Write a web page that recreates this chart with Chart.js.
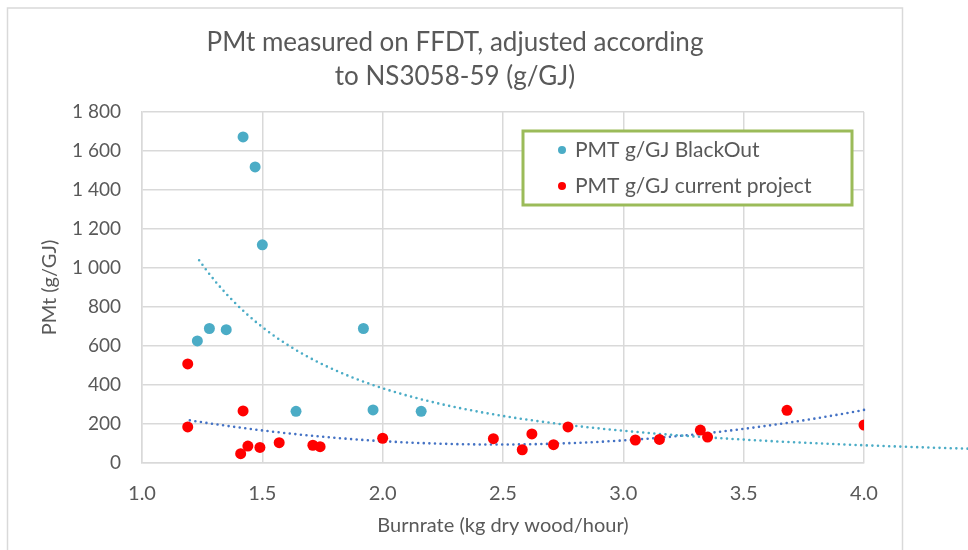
<!DOCTYPE html>
<html>
<head>
<meta charset="utf-8">
<script src="https://cdn.jsdelivr.net/npm/chart.js@4.4.1/dist/chart.umd.min.js"></script>
<style>
  html, body { margin: 0; padding: 0; background: #fff; }
  #wrap { width: 968px; height: 550px; position: relative; }
</style>
</head>
<body>
<div id="wrap"><canvas id="pmChart" width="968" height="550"></canvas></div>
<script>
// burnrate (kg dry wood/hour) and PMt (g/GJ)
var blackoutX = [1.42, 1.47, 1.50, 1.23, 1.28, 1.35, 1.92, 1.64, 1.96, 2.16];
var blackoutY = [1673, 1519, 1119, 626, 690, 684, 690, 265, 272, 265];

var currentX = [1.19, 1.19, 1.42, 1.41, 1.44, 1.49, 1.57, 1.71, 1.74, 2.00, 2.46,
                2.58, 2.62, 2.71, 2.77, 3.05, 3.15, 3.32, 3.35, 3.68, 4.00];
var currentY = [508, 185, 267, 48, 87, 80, 104, 91, 84, 127, 125,
                68, 149, 94, 185, 118, 121, 169, 133, 270, 195];

var xTicks = [1.0, 1.5, 2.0, 2.5, 3.0, 3.5, 4.0];
var yTicks = [0, 200, 400, 600, 800, 1000, 1200, 1400, 1600, 1800];

var seriesNames = ['PMT g/GJ BlackOut', 'PMT g/GJ current project'];
var colBlue = '#4bacc6', colRed = '#ff0000', colTrend2 = '#4472c4';
var greyTxt = '#595959', gridCol = '#d9d9d9';

function pts(xs, ys) {
    return xs.map(function (x, i) { return { x: x, y: ys[i] }; });
}

// power trendline y = a*x^b (least squares on logs), like the spreadsheet does
function powerFit(xs, ys) {
    var n = xs.length, sx = 0, sy = 0, sxx = 0, sxy = 0;
    for (var i = 0; i < n; i++) {
        var lx = Math.log(xs[i]), ly = Math.log(ys[i]);
        sx += lx; sy += ly; sxx += lx * lx; sxy += lx * ly;
    }
    var b = (n * sxy - sx * sy) / (n * sxx - sx * sx);
    var a = Math.exp((sy - b * sx) / n);
    return function (x) { return a * Math.pow(x, b); };
}

// 2nd order polynomial trendline
function polyFit2(xs, ys) {
    var n = xs.length, s = [0, 0, 0, 0, 0], t = [0, 0, 0];
    for (var i = 0; i < n; i++) {
        var p = 1;
        for (var k = 0; k < 5; k++) { s[k] += p; if (k < 3) t[k] += p * ys[i]; p *= xs[i]; }
    }
    var m = [[s[0], s[1], s[2], t[0]], [s[1], s[2], s[3], t[1]], [s[2], s[3], s[4], t[2]]];
    for (var c = 0; c < 3; c++) {
        for (var r = c + 1; r < 3; r++) {
            var f = m[r][c] / m[c][c];
            for (var j = c; j < 4; j++) m[r][j] -= f * m[c][j];
        }
    }
    var co = [0, 0, 0];
    for (var r2 = 2; r2 >= 0; r2--) {
        var v = m[r2][3];
        for (var j2 = r2 + 1; j2 < 3; j2++) v -= m[r2][j2] * co[j2];
        co[r2] = v / m[r2][r2];
    }
    return function (x) { return co[0] + co[1] * x + co[2] * x * x; };
}

// sampled right-to-left: unsorted data keeps chart.js from dropping the part past the axis max
function trendPoints(fn, from, to) {
    var out = [], steps = 80;
    for (var i = steps; i >= 0; i--) {
        var x = from + (to - from) * i / steps;
        out.push({ x: x, y: fn(x) });
    }
    return out;
}

var fitBlue = powerFit(blackoutX, blackoutY);
var fitRed = polyFit2(currentX, currentY);

function fmtThousands(v) {
    return String(v).replace(/\B(?=(\d{3})+(?!\d))/g, ' ');
}

// outer chart frame + legend box inside the plot
var framePlugin = {
    id: 'frame',
    beforeDraw: function (chart) {
        var ctx = chart.ctx;
        ctx.save();
        ctx.fillStyle = '#fff';
        ctx.fillRect(0, 0, chart.width, chart.height);
        ctx.strokeStyle = gridCol;
        ctx.lineWidth = 1.5;
        ctx.strokeRect(7.5, 8, 895, 600);
        ctx.restore();
    },
    afterDraw: function (chart) {
        var ctx = chart.ctx;
        ctx.save();
        ctx.fillStyle = '#fff';
        ctx.fillRect(523, 131, 329, 74);
        ctx.strokeStyle = '#9bbb59';
        ctx.lineWidth = 3;
        ctx.strokeRect(523, 131, 329, 74);
        var cols = [colBlue, colRed];
        ctx.font = '21px Lato';
        ctx.textBaseline = 'middle';
        for (var i = 0; i < 2; i++) {
            var y = 150 + i * 36;
            ctx.fillStyle = cols[i];
            ctx.beginPath();
            ctx.arc(562, y, 4, 0, Math.PI * 2);
            ctx.fill();
            ctx.fillStyle = greyTxt;
            ctx.fillText(seriesNames[i], 575, y);
        }
        ctx.restore();
    }
};

var ctx = document.getElementById('pmChart').getContext('2d');
var chart = new Chart(ctx, {
    type: 'scatter',
    data: {
        datasets: [{
            label: seriesNames[0],
            data: pts(blackoutX, blackoutY),
            backgroundColor: colBlue,
            borderWidth: 0,
            pointRadius: 5.5,
            order: 1
        }, {
            label: seriesNames[1],
            data: pts(currentX, currentY),
            backgroundColor: colRed,
            borderWidth: 0,
            pointRadius: 5.5,
            order: 0
        }, {
            label: 'trend BlackOut',
            type: 'line',
            data: trendPoints(fitBlue, Math.min.apply(null, blackoutX), 4.5),
            borderColor: colBlue,
            borderWidth: 2.6,
            borderDash: [0, 5.6],
            borderCapStyle: 'round',
            pointRadius: 0,
            fill: false,
            clip: false,
            order: 2
        }, {
            label: 'trend current',
            type: 'line',
            data: trendPoints(fitRed, Math.min.apply(null, currentX), 4.0),
            borderColor: colTrend2,
            borderWidth: 2.6,
            borderDash: [0, 5.6],
            borderCapStyle: 'round',
            pointRadius: 0,
            fill: false,
            clip: false,
            order: 2
        }]
    },
    options: {
        responsive: false,
        animation: false,
        layout: { padding: { left: 8, right: 66, top: 0, bottom: 0 } },
        plugins: {
            legend: { display: false },
            tooltip: { enabled: false },
            title: {
                display: true,
                text: ['PMt measured on FFDT, adjusted according', 'to NS3058-59 (g/GJ)'],
                color: greyTxt,
                font: { family: 'Lato', size: 26, weight: 'normal', lineHeight: 1.31 },
                padding: { top: 26, bottom: 18 }
            }
        },
        scales: {
            x: {
                type: 'linear',
                min: 1.0,
                max: 4.0,
                afterBuildTicks: function (s) { s.ticks = xTicks.map(function (v) { return { value: v }; }); },
                afterFit: function (s) { s.height = 87; },
                grid: { color: gridCol, lineWidth: 1.5, drawTicks: false },
                border: { color: gridCol, width: 1.5 },
                ticks: {
                    color: greyTxt,
                    font: { family: 'Lato', size: 20 },
                    padding: 19,
                    maxRotation: 0,
                    callback: function (v) { return Number(v).toFixed(1); }
                },
                title: {
                    display: true,
                    text: 'Burnrate (kg dry wood/hour)',
                    color: greyTxt,
                    font: { family: 'Lato', size: 20 },
                    padding: { top: 0, bottom: 12 }
                }
            },
            y: {
                min: 0,
                max: 1800,
                afterBuildTicks: function (s) { s.ticks = yTicks.map(function (v) { return { value: v }; }); },
                afterFit: function (s) { s.width = 134; },
                grid: { color: gridCol, lineWidth: 1.5, drawTicks: false },
                border: { color: gridCol, width: 1.5 },
                ticks: {
                    color: greyTxt,
                    font: { family: 'Lato', size: 19 },
                    padding: 21,
                    callback: function (v) { return fmtThousands(v); }
                },
                title: {
                    display: true,
                    text: 'PMt (g/GJ)',
                    color: greyTxt,
                    font: { family: 'Lato', size: 20 },
                    padding: { top: 30, bottom: 0 }
                }
            },
            // empty right-hand strip so the plot ends at 4.0 inside the frame
            yPad: {
                type: 'linear',
                position: 'right',
                afterFit: function (s) { s.width = 38; },
                grid: { display: false },
                border: { display: false },
                ticks: { display: false },
                title: { display: false }
            }
        }
    },
    plugins: [framePlugin]
});
</script>
</body>
</html>
